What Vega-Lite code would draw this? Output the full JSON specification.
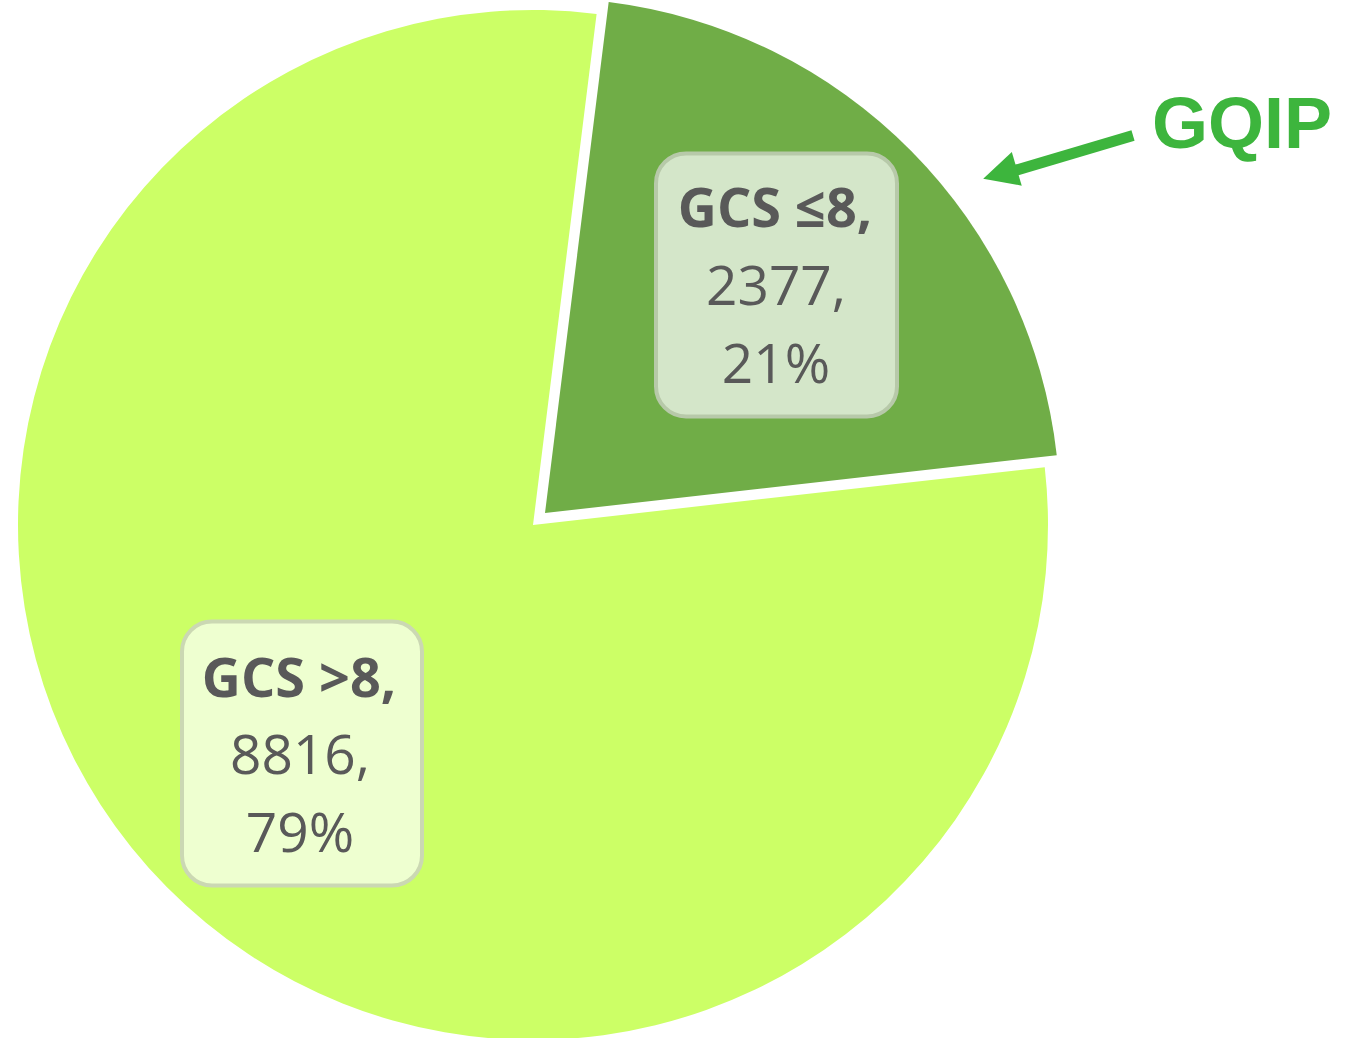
{
  "$schema": "https://vega.github.io/schema/vega-lite/v6.json",
  "width": 1359,
  "height": 1038,
  "autosize": {"type": "fit", "contains": "padding"},
  "padding": 0,
  "background": "white",
  "config": {"view": {"stroke": null}},
  "data": {
    "values": [
      {"category": "GCS ≤8", "count": 2377, "percent": "21%"},
      {"category": "GCS >8", "count": 8816, "percent": "79%"}
    ]
  },
  "transform": [
    {"calculate": "datum.category + ','", "as": "line1"},
    {"calculate": "datum.count + ','", "as": "line2"}
  ],
  "layer": [
    {
      "mark": {"type": "arc", "radius": 515},
      "encoding": {
        "x": {"datum": 533, "type": "quantitative", "scale": {"domain": [0, 1359], "nice": false, "zero": false}, "axis": null},
        "y": {"datum": 527, "type": "quantitative", "scale": {"domain": [0, 1038], "nice": false, "zero": false, "reverse": true}, "axis": null},
        "theta": {"field": "count", "type": "quantitative", "stack": true, "scale": {"range": [0.124, 6.407]}},
        "order": {"field": "count", "sort": "ascending"},
        "color": {"field": "category", "type": "nominal", "scale": {"domain": ["GCS ≤8", "GCS >8"], "range": ["#70AD47", "#CCFF66"]}, "legend": null},
        "opacity": {"condition": {"test": "datum.category === 'GCS >8'", "value": 1}, "value": 0}
      }
    },
    {
      "mark": {"type": "arc", "radius": 515},
      "encoding": {
        "x": {"datum": 545, "type": "quantitative", "axis": null},
        "y": {"datum": 515, "type": "quantitative", "axis": null},
        "theta": {"field": "count", "type": "quantitative", "stack": true},
        "order": {"field": "count", "sort": "ascending"},
        "color": {"field": "category", "type": "nominal", "legend": null},
        "opacity": {"condition": {"test": "datum.category === 'GCS ≤8'", "value": 1}, "value": 0}
      }
    },
    {
      "data": {"values": [{}]},
      "mark": {"type": "rect", "cornerRadius": 30, "fill": "#D4E6C9", "stroke": "#B7C9A9", "strokeWidth": 4},
      "encoding": {
        "x": {"datum": 656, "type": "quantitative", "axis": null},
        "x2": {"datum": 897},
        "y": {"datum": 154, "type": "quantitative", "axis": null},
        "y2": {"datum": 418}
      }
    },
    {
      "data": {"values": [{}]},
      "mark": {"type": "rect", "cornerRadius": 30, "fill": "#EEFFD0", "stroke": "#CBD8B3", "strokeWidth": 4},
      "encoding": {
        "x": {"datum": 182, "type": "quantitative", "axis": null},
        "x2": {"datum": 422},
        "y": {"datum": 624, "type": "quantitative", "axis": null},
        "y2": {"datum": 889}
      }
    },
    {
      "transform": [{"filter": "datum.category === 'GCS ≤8'"}],
      "mark": {"type": "text", "font": "Open Sans", "fontSize": 54, "fontWeight": "bold", "color": "#595959", "align": "center", "baseline": "alphabetic"},
      "encoding": {
        "x": {"datum": 775, "type": "quantitative", "axis": null},
        "y": {"datum": 228, "type": "quantitative", "axis": null},
        "text": {"field": "line1", "type": "nominal"}
      }
    },
    {
      "transform": [{"filter": "datum.category === 'GCS ≤8'"}],
      "mark": {"type": "text", "font": "Open Sans", "fontSize": 55, "color": "#595959", "align": "center", "baseline": "alphabetic"},
      "encoding": {
        "x": {"datum": 776, "type": "quantitative", "axis": null},
        "y": {"datum": 306, "type": "quantitative", "axis": null},
        "text": {"field": "line2", "type": "nominal"}
      }
    },
    {
      "transform": [{"filter": "datum.category === 'GCS ≤8'"}],
      "mark": {"type": "text", "font": "Open Sans", "fontSize": 55, "color": "#595959", "align": "center", "baseline": "alphabetic"},
      "encoding": {
        "x": {"datum": 776, "type": "quantitative", "axis": null},
        "y": {"datum": 384, "type": "quantitative", "axis": null},
        "text": {"field": "percent", "type": "nominal"}
      }
    },
    {
      "transform": [{"filter": "datum.category === 'GCS >8'"}],
      "mark": {"type": "text", "font": "Open Sans", "fontSize": 54, "fontWeight": "bold", "color": "#595959", "align": "center", "baseline": "alphabetic"},
      "encoding": {
        "x": {"datum": 299, "type": "quantitative", "axis": null},
        "y": {"datum": 700, "type": "quantitative", "axis": null},
        "text": {"field": "line1", "type": "nominal"}
      }
    },
    {
      "transform": [{"filter": "datum.category === 'GCS >8'"}],
      "mark": {"type": "text", "font": "Open Sans", "fontSize": 55, "color": "#595959", "align": "center", "baseline": "alphabetic"},
      "encoding": {
        "x": {"datum": 300, "type": "quantitative", "axis": null},
        "y": {"datum": 777, "type": "quantitative", "axis": null},
        "text": {"field": "line2", "type": "nominal"}
      }
    },
    {
      "transform": [{"filter": "datum.category === 'GCS >8'"}],
      "mark": {"type": "text", "font": "Open Sans", "fontSize": 55, "color": "#595959", "align": "center", "baseline": "alphabetic"},
      "encoding": {
        "x": {"datum": 300, "type": "quantitative", "axis": null},
        "y": {"datum": 855, "type": "quantitative", "axis": null},
        "text": {"field": "percent", "type": "nominal"}
      }
    },
    {
      "data": {"values": [{}]},
      "mark": {"type": "rule", "color": "#3DB53D", "strokeWidth": 11, "strokeCap": "butt"},
      "encoding": {
        "x": {"datum": 1133, "type": "quantitative", "axis": null},
        "y": {"datum": 136, "type": "quantitative", "axis": null},
        "x2": {"datum": 1012},
        "y2": {"datum": 172}
      }
    },
    {
      "data": {"values": [{}]},
      "mark": {"type": "point", "shape": "M-1,0L1,-1L1,1Z", "size": 1225, "angle": 343.5, "filled": true, "color": "#3DB53D", "opacity": 1},
      "encoding": {
        "x": {"datum": 1000, "type": "quantitative", "axis": null},
        "y": {"datum": 174.5, "type": "quantitative", "axis": null}
      }
    },
    {
      "data": {"values": [{"label": "GQIP"}]},
      "mark": {"type": "text", "font": "Liberation Sans", "fontSize": 72, "fontWeight": "bold", "color": "#3DB53D", "align": "left", "baseline": "alphabetic"},
      "encoding": {
        "x": {"datum": 1152, "type": "quantitative", "axis": null},
        "y": {"datum": 149, "type": "quantitative", "axis": null},
        "text": {"field": "label", "type": "nominal"}
      }
    }
  ]
}
